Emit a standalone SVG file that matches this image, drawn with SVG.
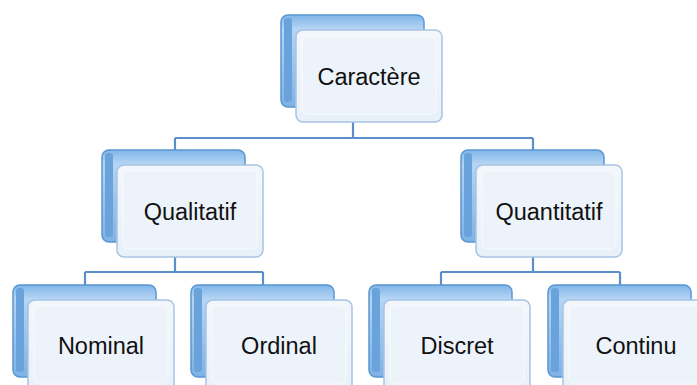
<svg xmlns="http://www.w3.org/2000/svg" width="697" height="385" viewBox="0 0 697 385">
<defs>
<linearGradient id="backG" x1="0" y1="0" x2="0" y2="1">
<stop offset="0" stop-color="#80B5E8"/>
<stop offset="0.15" stop-color="#B5D5F3"/>
<stop offset="1" stop-color="#7FB2E4"/>
</linearGradient>
<linearGradient id="frontG" x1="0" y1="0" x2="0" y2="1">
<stop offset="0" stop-color="#F3F7FC"/>
<stop offset="1" stop-color="#E8F0F9"/>
</linearGradient>
<g id="node">
<rect x="0" y="0" width="143" height="92" rx="7" fill="url(#backG)" stroke="#5A97D3" stroke-width="1.5"/>
<rect x="3" y="3" width="8" height="84" rx="3" fill="#6AA3DC"/>
<rect x="15" y="15" width="146" height="92" rx="7" fill="url(#frontG)" stroke="#A7C4E4" stroke-width="1.5"/>
<rect x="21" y="21" width="134" height="78" rx="5" fill="#EDF3FA" stroke="#F8FBFE" stroke-width="1"/>
</g>
</defs>
<style>
.lbl{font-family:"Liberation Sans",Arial,sans-serif;font-size:23.5px;fill:#111;text-anchor:middle}
.conn{fill:none;stroke:#5B8FCC;stroke-width:2.2}
</style>
<rect width="697" height="385" fill="#fff"/>
<g id="connectors">
<path class="conn" d="M353 120V138M175 138H533M175 138V151M533 138V151"/>
<path class="conn" d="M175 256V272M85 272H263M85 272V286M263 272V286"/>
<path class="conn" d="M533 256V272M441 272H620M441 272V286M620 272V286"/>
</g>
<g id="caractere"><use href="#node" x="281" y="15"/><text class="lbl" x="369" y="85">Caractère</text></g>
<g id="qualitatif"><use href="#node" x="102" y="150"/><text class="lbl" x="190" y="220">Qualitatif</text></g>
<g id="quantitatif"><use href="#node" x="461" y="150"/><text class="lbl" x="549" y="220">Quantitatif</text></g>
<g id="nominal"><use href="#node" x="13" y="285"/><text class="lbl" x="101" y="354">Nominal</text></g>
<g id="ordinal"><use href="#node" x="191" y="285"/><text class="lbl" x="279" y="354">Ordinal</text></g>
<g id="discret"><use href="#node" x="369" y="285"/><text class="lbl" x="457" y="354">Discret</text></g>
<g id="continu"><use href="#node" x="548" y="285"/><text class="lbl" x="636" y="354">Continu</text></g>
</svg>
